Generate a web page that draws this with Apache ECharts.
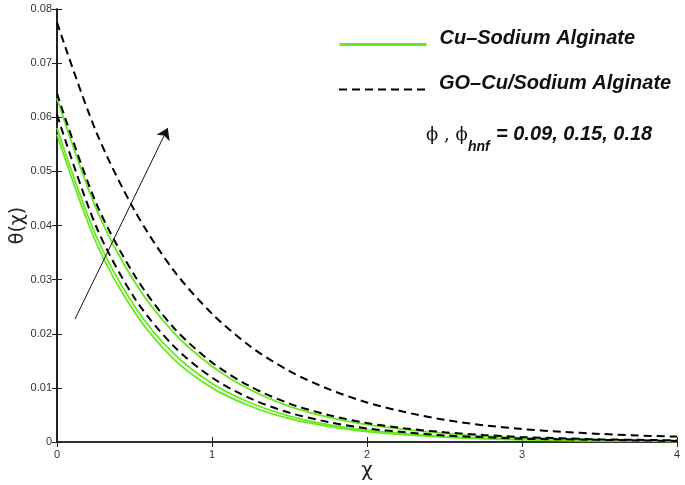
<!DOCTYPE html>
<html>
<head>
<meta charset="utf-8">
<script src="https://cdn.jsdelivr.net/npm/echarts@6/dist/echarts.min.js"></script>
<style>
  html, body { margin: 0; background: #fff; }
  #chart { width: 685px; height: 485px; }
</style>
</head>
<body>
<div id="chart"></div>
<script>
  // chi positions the curves were read at
  const chi = [0, 0.25, 0.5, 0.75, 1, 1.25, 1.5, 1.75, 2, 2.25, 2.5, 2.75, 3, 3.25, 3.5, 3.75, 4]

  // Cu-Sodium Alginate, phi = 0.09, 0.15, 0.18
  const cuLow = [0.0568, 0.0370, 0.0240, 0.0154, 0.0100, 0.0066, 0.0043, 0.0029, 0.0019, 0.0013, 0.0009, 0.0006, 0.0004, 0.0003, 0.0002, 0.0002, 0.0001]
  const cuMid = [0.0580, 0.0382, 0.0251, 0.0164, 0.0108, 0.0072, 0.0048, 0.0032, 0.0022, 0.0015, 0.0010, 0.0007, 0.0005, 0.0004, 0.0003, 0.0002, 0.0001]
  const cuHigh = [0.0635, 0.0433, 0.0296, 0.0203, 0.0140, 0.0096, 0.0066, 0.0046, 0.0032, 0.0023, 0.0016, 0.0011, 0.0008, 0.0006, 0.0004, 0.0003, 0.0002]

  // GO-Cu/Sodium Alginate, phi_hnf = 0.09, 0.15, 0.18
  const goLow = [0.0605, 0.0400, 0.0266, 0.0178, 0.0119, 0.0080, 0.0054, 0.0037, 0.0025, 0.0018, 0.0012, 0.0009, 0.0006, 0.0005, 0.0004, 0.0003, 0.0002]
  const goMid = [0.0644, 0.0443, 0.0308, 0.0212, 0.0147, 0.0102, 0.0071, 0.0050, 0.0035, 0.0025, 0.0018, 0.0013, 0.0009, 0.0007, 0.0005, 0.0004, 0.0003]
  const goHigh = [0.0775, 0.0575, 0.0428, 0.0318, 0.0237, 0.0176, 0.0131, 0.0098, 0.0073, 0.0055, 0.0041, 0.0031, 0.0024, 0.0019, 0.0015, 0.0012, 0.0010]

  // arrow drawn in data space, pointing toward increasing phi
  const arrowFrom = [0.116, 0.0227]
  const arrowTo = [0.715, 0.058]

  const cuName = 'Cu–Sodium Alginate'
  const goName = 'GO–Cu/Sodium Alginate'
  const green = '#66ea1e'

  const pairs = ys => chi.map((x, i) => [x, ys[i]])

  const cuLine = ys => ({
    name: cuName,
    type: 'line',
    data: pairs(ys),
    smooth: 0.3,
    symbol: 'none',
    lineStyle: { color: green, width: 1.8 },
    itemStyle: { color: green },
    z: 2
  })
  const goLine = ys => ({
    name: goName,
    type: 'line',
    data: pairs(ys),
    smooth: 0.3,
    symbol: 'none',
    lineStyle: { color: '#000', width: 2, type: [8, 5] },
    itemStyle: { color: '#000' },
    z: 3
  })

  // text sits a little above the sample line, as in the original
  const legendText = {
    rich: {
      t: {
        fontSize: 20,
        fontStyle: 'italic',
        fontWeight: 'bold',
        fontFamily: 'Liberation Sans',
        color: '#111',
        lineHeight: 20,
        padding: [0, 0, 13, 8]
      }
    }
  }

  const axisColor = '#222'
  const chart = echarts.init(document.getElementById('chart'))

  chart.setOption({
    animation: false,
    backgroundColor: '#fff',
    grid: { left: 57, right: 8, top: 9, bottom: 43, outerBoundsMode: 'none' },
    legend: [{
      data: [cuName],
      left: 338,
      top: 28,
      padding: 0,
      itemWidth: 87,
      itemHeight: 10,
      itemStyle: { opacity: 0 },
      lineStyle: { width: 3 },
      formatter: '{t|{name}}',
      textStyle: legendText
    }, {
      data: [goName],
      left: 338,
      top: 73,
      padding: 0,
      itemWidth: 87,
      itemHeight: 10,
      itemStyle: { opacity: 0 },
      formatter: '{t|{name}}',
      textStyle: legendText
    }],
    xAxis: [{
      type: 'value',
      min: 0,
      max: 4,
      interval: 1,
      name: 'χ',
      nameLocation: 'middle',
      nameGap: 19,
      nameMoveOverlap: false,
      nameTextStyle: { fontSize: 20, color: '#222', fontFamily: 'DejaVu Sans' },
      axisLine: { lineStyle: { color: axisColor, width: 1.5 } },
      axisTick: { inside: true, length: 5, lineStyle: { color: axisColor } },
      axisLabel: { color: '#333', fontSize: 11, margin: 7, fontFamily: 'Liberation Sans' },
      splitLine: { show: false }
    }, {
      type: 'value',
      position: 'top',
      min: 0,
      max: 4,
      interval: 1,
      axisLine: { lineStyle: { color: '#333', width: 2 } },
      axisTick: { inside: true, length: 5, lineStyle: { color: axisColor } },
      axisLabel: { show: false },
      splitLine: { show: false }
    }],
    yAxis: [{
      type: 'value',
      min: 0,
      max: 0.08,
      interval: 0.01,
      name: 'θ(χ)',
      nameLocation: 'middle',
      nameGap: 29,
      nameRotate: 90,
      nameMoveOverlap: false,
      nameTextStyle: { fontSize: 19, color: '#222', fontFamily: 'DejaVu Sans' },
      axisLine: { lineStyle: { color: axisColor, width: 1.5 } },
      axisTick: { inside: true, length: 5, lineStyle: { color: axisColor } },
      axisLabel: {
        color: '#333',
        fontSize: 11,
        margin: 5,
        fontFamily: 'Liberation Sans',
        formatter: v => (v === 0 ? '0' : v.toFixed(2))
      },
      splitLine: { show: false }
    }, {
      type: 'value',
      position: 'right',
      min: 0,
      max: 0.08,
      interval: 0.01,
      axisLine: { lineStyle: { color: '#111', width: 1.5 } },
      axisTick: { inside: true, length: 5, lineStyle: { color: axisColor } },
      axisLabel: { show: false },
      splitLine: { show: false }
    }],
    series: [
      cuLine(cuLow),
      cuLine(cuMid),
      cuLine(cuHigh),
      goLine(goLow),
      goLine(goMid),
      Object.assign(goLine(goHigh), {
        markLine: {
          silent: true,
          symbol: ['none', 'arrow'],
          symbolSize: 11,
          label: { show: false },
          lineStyle: { color: '#111', width: 1, type: 'solid' },
          data: [[{ coord: arrowFrom }, { coord: arrowTo }]]
        }
      })
    ],
    graphic: [{
      type: 'text',
      x: 426,
      y: 135,
      style: { text: 'ϕ , ϕ', font: '18px "DejaVu Serif"', fill: '#111', verticalAlign: 'middle' }
    }, {
      type: 'text',
      x: 468,
      y: 147,
      style: { text: 'hnf', font: 'italic bold 14px "Liberation Sans"', fill: '#111', verticalAlign: 'middle' }
    }, {
      type: 'text',
      x: 496,
      y: 134,
      style: { text: '= 0.09, 0.15, 0.18', font: 'italic bold 20px "Liberation Sans"', fill: '#111', verticalAlign: 'middle' }
    }]
  })
</script>
</body>
</html>
